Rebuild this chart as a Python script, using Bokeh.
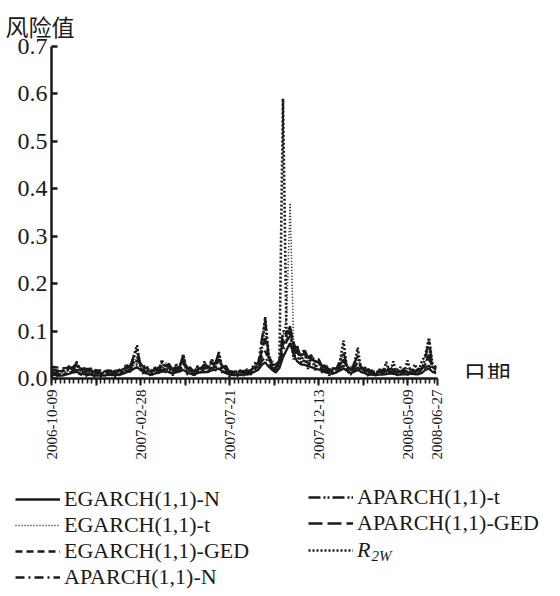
import math
from bokeh.plotting import figure
from bokeh.layouts import column
from bokeh.models import (Range1d, FixedTicker, PrintfTickFormatter, Legend,
                          LegendItem, Label)
from bokeh.embed import file_html
from bokeh.resources import INLINE

# ---------------- data ----------------
obs = list(range(0, 433, 4))          # trading-day index (every 4th observation)
x_tick_obs = [0, 100, 200, 300, 400, 433]
x_tick_labels = ["2006-10-09", "2007-02-28", "2007-07-21", "2007-12-13",
                 "2008-05-09", "2008-06-27"]
x_unlabeled_ticks = [50, 150, 250, 350]
y_ticks = [0.0, 0.1, 0.2, 0.3, 0.4, 0.5, 0.6, 0.7]

egarch_n = [0.009, 0.007, 0.006, 0.006, 0.008, 0.010, 0.013, 0.014, 0.011, 0.009, 0.008, 0.008,
            0.006, 0.006, 0.007, 0.006, 0.008, 0.007, 0.008, 0.007, 0.010, 0.013, 0.015, 0.020,
            0.024, 0.018, 0.013, 0.010, 0.008, 0.010, 0.013, 0.014, 0.017, 0.013, 0.011, 0.013,
            0.015, 0.018, 0.014, 0.010, 0.008, 0.011, 0.014, 0.013, 0.015, 0.017, 0.019, 0.021,
            0.015, 0.011, 0.008, 0.007, 0.008, 0.007, 0.009, 0.008, 0.011, 0.014, 0.018, 0.028,
            0.034, 0.025, 0.018, 0.013, 0.022, 0.045, 0.060, 0.075, 0.050, 0.036, 0.030, 0.029,
            0.026, 0.024, 0.021, 0.019, 0.016, 0.013, 0.011, 0.010, 0.013, 0.017, 0.021, 0.016,
            0.012, 0.014, 0.018, 0.014, 0.011, 0.008, 0.008, 0.007, 0.008, 0.008, 0.009, 0.011,
            0.010, 0.008, 0.008, 0.009, 0.008, 0.010, 0.009, 0.009, 0.012, 0.018, 0.021, 0.014, 0.011]
egarch_t = [0.018, 0.009, 0.014, 0.008, 0.016, 0.012, 0.026, 0.015, 0.024, 0.011, 0.017, 0.010,
            0.015, 0.007, 0.014, 0.008, 0.016, 0.009, 0.018, 0.010, 0.021, 0.014, 0.032, 0.024,
            0.055, 0.026, 0.030, 0.013, 0.019, 0.011, 0.027, 0.016, 0.034, 0.018, 0.025, 0.015,
            0.032, 0.042, 0.020, 0.024, 0.011, 0.024, 0.017, 0.028, 0.019, 0.036, 0.024, 0.048,
            0.022, 0.026, 0.011, 0.017, 0.009, 0.018, 0.011, 0.020, 0.014, 0.030, 0.020, 0.065,
            0.105, 0.038, 0.040, 0.016, 0.045, 0.085, 0.130, 0.370, 0.070, 0.062, 0.040, 0.058,
            0.038, 0.048, 0.030, 0.039, 0.022, 0.029, 0.014, 0.022, 0.017, 0.035, 0.050, 0.022,
            0.026, 0.018, 0.045, 0.020, 0.024, 0.011, 0.018, 0.009, 0.019, 0.010, 0.021, 0.015,
            0.023, 0.011, 0.019, 0.012, 0.021, 0.013, 0.019, 0.012, 0.027, 0.030, 0.065, 0.020, 0.025]
egarch_ged = [0.025, 0.024, 0.023, 0.022, 0.022, 0.024, 0.026, 0.028, 0.025, 0.022, 0.020, 0.020,
              0.018, 0.017, 0.017, 0.016, 0.017, 0.016, 0.017, 0.016, 0.019, 0.022, 0.025, 0.030,
              0.038, 0.030, 0.024, 0.020, 0.017, 0.019, 0.022, 0.024, 0.028, 0.023, 0.019, 0.021,
              0.025, 0.030, 0.023, 0.018, 0.016, 0.019, 0.023, 0.022, 0.025, 0.028, 0.031, 0.035,
              0.026, 0.020, 0.016, 0.014, 0.015, 0.014, 0.016, 0.015, 0.018, 0.023, 0.029, 0.045,
              0.058, 0.040, 0.030, 0.022, 0.035, 0.070, 0.095, 0.105, 0.075, 0.055, 0.048, 0.050,
              0.045, 0.041, 0.037, 0.033, 0.028, 0.023, 0.020, 0.018, 0.022, 0.028, 0.036, 0.027,
              0.021, 0.024, 0.032, 0.024, 0.019, 0.016, 0.015, 0.014, 0.016, 0.015, 0.017, 0.020,
              0.018, 0.016, 0.015, 0.017, 0.016, 0.018, 0.016, 0.017, 0.021, 0.030, 0.040, 0.026, 0.022]
aparch_n = [0.011, 0.009, 0.008, 0.008, 0.010, 0.012, 0.016, 0.018, 0.014, 0.011, 0.010, 0.010,
            0.008, 0.008, 0.009, 0.008, 0.010, 0.009, 0.010, 0.009, 0.012, 0.016, 0.019, 0.025,
            0.030, 0.022, 0.016, 0.013, 0.010, 0.012, 0.016, 0.018, 0.021, 0.016, 0.013, 0.016,
            0.019, 0.023, 0.017, 0.013, 0.010, 0.014, 0.018, 0.016, 0.019, 0.022, 0.024, 0.027,
            0.019, 0.014, 0.010, 0.009, 0.010, 0.009, 0.011, 0.010, 0.014, 0.018, 0.023, 0.036,
            0.045, 0.032, 0.023, 0.017, 0.028, 0.058, 0.078, 0.090, 0.062, 0.045, 0.038, 0.037,
            0.033, 0.030, 0.027, 0.024, 0.020, 0.017, 0.014, 0.013, 0.017, 0.022, 0.027, 0.020,
            0.015, 0.018, 0.023, 0.017, 0.014, 0.011, 0.010, 0.009, 0.011, 0.010, 0.012, 0.014,
            0.013, 0.011, 0.010, 0.012, 0.011, 0.013, 0.011, 0.012, 0.016, 0.023, 0.027, 0.018, 0.014]
aparch_t = [0.012, 0.019, 0.009, 0.016, 0.011, 0.024, 0.018, 0.033, 0.016, 0.022, 0.010, 0.019,
            0.009, 0.016, 0.010, 0.015, 0.011, 0.017, 0.012, 0.019, 0.014, 0.029, 0.024, 0.045,
            0.062, 0.030, 0.020, 0.024, 0.012, 0.022, 0.019, 0.033, 0.026, 0.031, 0.016, 0.029,
            0.024, 0.050, 0.022, 0.023, 0.013, 0.026, 0.021, 0.030, 0.024, 0.040, 0.032, 0.055,
            0.024, 0.027, 0.012, 0.016, 0.011, 0.017, 0.013, 0.020, 0.017, 0.033, 0.030, 0.080,
            0.125, 0.042, 0.028, 0.030, 0.036, 0.100, 0.095, 0.110, 0.068, 0.066, 0.046, 0.062,
            0.044, 0.050, 0.035, 0.041, 0.025, 0.030, 0.016, 0.022, 0.020, 0.038, 0.056, 0.025,
            0.018, 0.032, 0.048, 0.022, 0.016, 0.020, 0.012, 0.016, 0.013, 0.019, 0.014, 0.026,
            0.015, 0.020, 0.012, 0.021, 0.013, 0.022, 0.013, 0.021, 0.019, 0.045, 0.080, 0.023, 0.026]
aparch_ged = [0.020, 0.018, 0.016, 0.015, 0.016, 0.020, 0.024, 0.027, 0.022, 0.018, 0.016, 0.017,
              0.014, 0.013, 0.014, 0.013, 0.015, 0.014, 0.016, 0.014, 0.018, 0.022, 0.026, 0.033,
              0.045, 0.031, 0.023, 0.018, 0.015, 0.017, 0.021, 0.024, 0.029, 0.023, 0.018, 0.021,
              0.026, 0.036, 0.024, 0.017, 0.015, 0.018, 0.023, 0.021, 0.025, 0.029, 0.033, 0.040,
              0.026, 0.019, 0.015, 0.012, 0.014, 0.013, 0.015, 0.014, 0.018, 0.024, 0.030, 0.055,
              0.085, 0.044, 0.031, 0.021, 0.036, 0.080, 0.100, 0.098, 0.070, 0.054, 0.047, 0.050,
              0.045, 0.041, 0.037, 0.032, 0.027, 0.022, 0.018, 0.016, 0.021, 0.028, 0.040, 0.026,
              0.019, 0.023, 0.034, 0.023, 0.018, 0.014, 0.013, 0.012, 0.014, 0.013, 0.015, 0.019,
              0.017, 0.014, 0.013, 0.015, 0.014, 0.016, 0.014, 0.015, 0.020, 0.032, 0.050, 0.024, 0.019]
r2w = [0.004, 0.012, 0.003, 0.020, 0.006, 0.028, 0.010, 0.036, 0.005, 0.018, 0.003, 0.022,
       0.004, 0.014, 0.002, 0.016, 0.006, 0.012, 0.003, 0.018, 0.008, 0.030, 0.012, 0.045,
       0.070, 0.020, 0.008, 0.016, 0.004, 0.024, 0.010, 0.040, 0.012, 0.028, 0.006, 0.030,
       0.014, 0.052, 0.008, 0.020, 0.004, 0.026, 0.012, 0.036, 0.010, 0.040, 0.016, 0.056,
       0.010, 0.020, 0.004, 0.012, 0.003, 0.016, 0.006, 0.018, 0.008, 0.026, 0.020, 0.060,
       0.130, 0.050, 0.030, 0.012, 0.040, 0.590, 0.080, 0.100, 0.040, 0.070, 0.030, 0.060,
       0.020, 0.050, 0.016, 0.040, 0.012, 0.028, 0.006, 0.020, 0.010, 0.036, 0.080, 0.016,
       0.008, 0.030, 0.065, 0.012, 0.024, 0.004, 0.018, 0.006, 0.020, 0.008, 0.035, 0.010,
       0.036, 0.006, 0.024, 0.012, 0.038, 0.008, 0.030, 0.014, 0.036, 0.050, 0.086, 0.030, 0.024]

series_names = ["EGARCH(1,1)-N", "EGARCH(1,1)-t", "EGARCH(1,1)-GED",
                "APARCH(1,1)-N", "APARCH(1,1)-t", "APARCH(1,1)-GED", "R2W"]
series_values = [egarch_n, egarch_t, egarch_ged, aparch_n, aparch_t, aparch_ged, r2w]

# ---------------- styles ----------------
INK = "#1a1a1a"
SERIF = "Liberation Serif"
CJK = "Noto Sans CJK SC"
styles = [
    dict(line_dash="solid", line_width=2.3),
    dict(line_dash="1 2", line_width=1.6),
    dict(line_dash="7 4", line_width=2.3),
    dict(line_dash="9 4 2 4", line_width=2.3),
    dict(line_dash="12 3 2 2 2 3", line_width=2.3),
    dict(line_dash="14 5", line_width=2.3),
    dict(line_dash="2 2", line_width=2.6),
]

# ---------------- main chart ----------------
p = figure(width=560, height=470, output_backend="svg", toolbar_location=None,
           x_range=Range1d(0, 538), y_range=Range1d(0, 0.7),
           min_border_left=51, min_border_right=30,
           min_border_top=46, min_border_bottom=92)
p.frame_align = False
p.outline_line_color = None
p.xgrid.visible = False
p.ygrid.visible = False
p.background_fill_color = "white"
p.border_fill_color = "white"

for vals, st in zip(series_values, styles):
    p.line(obs, vals, line_color=INK, **st)

# title used as the y-axis caption at top-left
p.title.text = "风险值"
p.title.text_font = CJK
p.title.text_font_size = "23px"
p.title.text_font_style = "normal"
p.title.text_color = INK
p.title.align = "left"
p.title.vertical_align = "top"
p.title.offset = -46
p.title.standoff = 4

# y axis
ya = p.yaxis[0]
ya.ticker = FixedTicker(ticks=y_ticks, minor_ticks=[])
ya.formatter = PrintfTickFormatter(format="%.1f")
ya.axis_line_width = 2.5
ya.axis_line_color = INK
ya.major_tick_in = 6
ya.major_tick_out = 0
ya.major_tick_line_width = 2.5
ya.major_tick_line_color = INK
ya.minor_tick_line_color = None
ya.major_label_text_font = SERIF
ya.major_label_text_font_size = "24px"
ya.major_label_text_color = INK
ya.major_label_standoff = 4

# x axis
xa = p.xaxis[0]
xa.bounds = (0, 433)
xa.ticker = FixedTicker(ticks=sorted(x_tick_obs + x_unlabeled_ticks),
                        minor_ticks=list(range(0, 434, 5)))
overrides = {t: lab for t, lab in zip(x_tick_obs, x_tick_labels)}
for t in x_unlabeled_ticks:
    overrides[t] = ""
xa.major_label_overrides = overrides
xa.major_label_orientation = math.pi / 2
xa.axis_line_width = 2.5
xa.axis_line_color = INK
xa.major_tick_in = 0
xa.major_tick_out = 7
xa.major_tick_line_width = 2
xa.major_tick_line_color = INK
xa.minor_tick_in = 0
xa.minor_tick_out = 5
xa.minor_tick_line_width = 1.6
xa.minor_tick_line_color = INK
xa.major_label_text_font = SERIF
xa.major_label_text_font_size = "15px"
xa.major_label_text_color = INK
xa.major_label_standoff = 4

p.add_layout(Label(x=462, y=0.013, text="日期", text_font=CJK,
                   text_font_size="24px", text_color=INK, text_baseline="middle"))

# ---------------- legend strip ----------------
q = figure(width=560, height=126, output_backend="svg", toolbar_location=None,
           x_range=Range1d(0, 560), y_range=Range1d(0, 126),
           min_border_left=0, min_border_right=0, min_border_top=0, min_border_bottom=0)
q.frame_align = False
q.outline_line_color = None
q.axis.visible = False
q.xgrid.visible = False
q.ygrid.visible = False
# legend swatches (kept off-screen, below the visible range)
dummies = [q.line([0, 1], [-50, -50], line_color=INK, **st) for st in styles]

def make_legend(items, loc, italic=False):
    return Legend(items=items, location=loc, orientation="vertical",
                  glyph_width=45, glyph_height=26, spacing=0, padding=0, margin=0,
                  label_standoff=4, label_height=26,
                  label_text_font=SERIF, label_text_font_size="22px",
                  label_text_color=INK, label_text_baseline="middle",
                  label_text_font_style="italic" if italic else "normal",
                  border_line_color=None, background_fill_alpha=0)

leg1 = make_legend([LegendItem(label=series_names[i], renderers=[dummies[i]]) for i in range(4)],
                   (15, 6))
leg2 = make_legend([LegendItem(label=series_names[i], renderers=[dummies[i]]) for i in range(4, 6)],
                   (308, 60))
leg3 = make_legend([LegendItem(label="R", renderers=[dummies[6]])], (308, 33), italic=True)
for lg in (leg1, leg2, leg3):
    q.add_layout(lg, "center")
q.add_layout(Label(x=371, y=41, text="2W", text_font=SERIF,
                   text_font_size="15px", text_font_style="italic", text_color=INK,
                   text_baseline="middle"))

layout = column(p, q, spacing=0)
open("out.html", "w").write(file_html(layout, INLINE))
